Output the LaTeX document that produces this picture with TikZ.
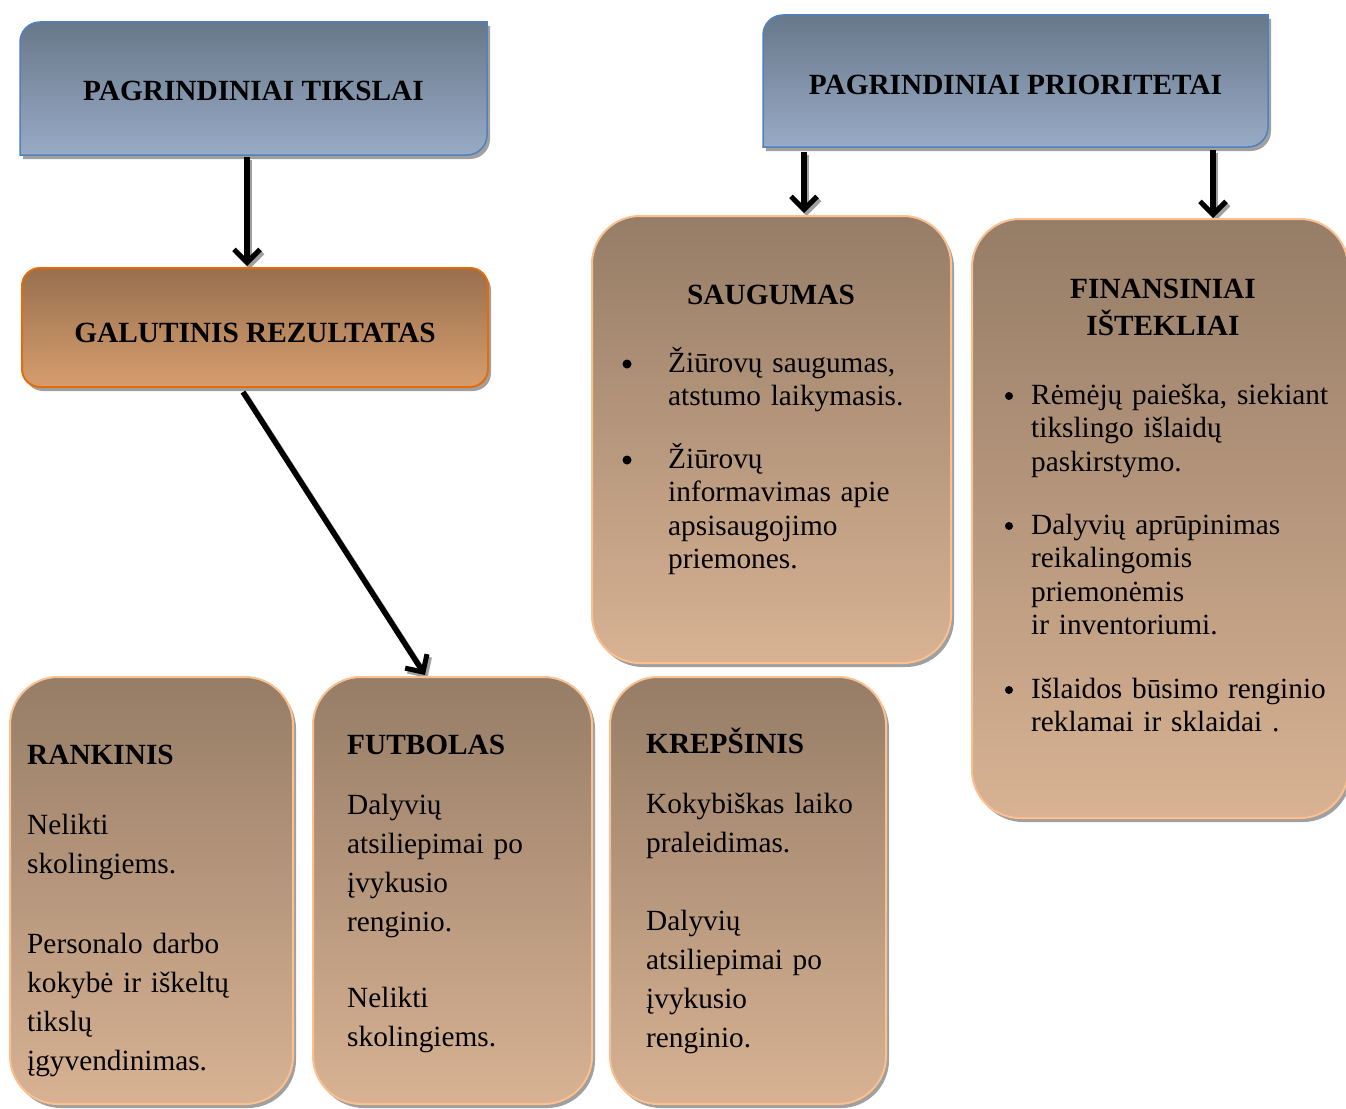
\documentclass[tikz,border=0pt]{standalone}
\usepackage{fontspec}
\setmainfont{Liberation Serif}
\usetikzlibrary{arrows.meta,shadows}
\pgfdeclarelayer{bg}
\pgfsetlayers{bg,main}
\definecolor{bluetop}{RGB}{104,120,139}
\definecolor{bluebot}{RGB}{152,171,197}
\definecolor{blueline}{RGB}{79,129,189}
\definecolor{ortop}{RGB}{152,111,78}
\definecolor{orbot}{RGB}{214,158,110}
\definecolor{orline}{RGB}{228,108,10}
\definecolor{brtop}{RGB}{150,125,103}
\definecolor{brbot}{RGB}{216,178,147}
\definecolor{brline}{RGB}{250,192,143}
\definecolor{shadowgray}{RGB}{160,160,160}
\begin{document}
\begin{tikzpicture}[x=1pt,y=1pt,
  frame/.style={rectangle, inner sep=0pt, outer sep=0pt},
  headbox/.style={frame, font=\fontsize{29.3}{34}\selectfont\bfseries, text depth=0pt},
  cutshape/.style 2 args={insert path={(#1.south west) -- ([yshift=-#2pt]#1.north west)
      arc[start angle=180,end angle=90,radius=#2] -- (#1.north east)
      -- ([yshift=#2pt]#1.south east) arc[start angle=0,end angle=-90,radius=#2] -- cycle}},
  bluefill/.style={top color=bluetop, bottom color=bluebot, draw=blueline, line width=1.5pt},
  boxshadow/.style={drop shadow={shadow xshift=3pt, shadow yshift=-4pt, fill=shadowgray, opacity=1}},
  orbox/.style={frame, rounded corners=18pt, top color=ortop, bottom color=orbot,
      draw=orline, line width=2pt, boxshadow},
  brbox/.style={frame, rounded corners=48pt, top color=brtop, bottom color=brbot,
      draw=brline, line width=2pt, boxshadow},
  headtext/.style={inner sep=0pt, anchor=base west, font=\fontsize{29.3}{37}\selectfont\bfseries},
  bodylow/.style={inner sep=0pt, anchor=base west, text width=330pt, align=left,
      font=\fontsize{29.3}{39}\selectfont},
  bodytop/.style={inner sep=0pt, anchor=base west, text width=330pt, align=left,
      font=\fontsize{29.3}{33.5}\selectfont},
  bul/.style={circle, fill=black, inner sep=0pt, minimum size=9pt},
  arrowline/.style={line width=5.5pt, -{Straight Barb[length=13pt,width=26pt,line width=5pt]}},
  arrowshadow/.style={arrowline, draw=shadowgray, transform canvas={shift={(2.5pt,-3pt)}}}
]
\useasboundingbox (0,0) rectangle (1346,-1108);

% header boxes
\node[headbox, minimum width=467pt, minimum height=133pt, text height=24pt] (tikslai) at (253.5,-88.5) {PAGRINDINIAI TIKSLAI};
\node[headbox, minimum width=505pt, minimum height=132pt, text height=27.5pt] (prioritetai) at (1015.5,-81) {PAGRINDINIAI PRIORITETAI};
\begin{pgfonlayer}{bg}
  \fill[shadowgray, transform canvas={shift={(3pt,-4pt)}}, cutshape={tikslai}{20}];
  \shadedraw[bluefill, cutshape={tikslai}{20}];
  \fill[shadowgray, transform canvas={shift={(3pt,-4pt)}}, cutshape={prioritetai}{20}];
  \shadedraw[bluefill, cutshape={prioritetai}{20}];
\end{pgfonlayer}

% result box
\node[orbox, minimum width=466pt, minimum height=119pt, text height=30pt, text depth=0pt,
      font=\fontsize{29.3}{34}\selectfont\bfseries] (galutinis) at (255,-327.5) {GALUTINIS REZULTATAS};

% brown boxes
\node[brbox, minimum width=359pt, minimum height=447pt] (saugumas) at (771.5,-439.5) {};
\node[brbox, minimum width=376pt, minimum height=599pt] (finansai) at (1160,-518.5) {};
\node[brbox, minimum width=283pt, minimum height=427pt] (rankinis) at (151.5,-890.5) {};
\node[brbox, minimum width=279pt, minimum height=427pt] (futbolas) at (452.5,-890.5) {};
\node[brbox, minimum width=276pt, minimum height=427pt] (krepsinis) at (748,-890.5) {};

% SAUGUMAS
\node[headtext, anchor=base] (sgh) at (771,-304) {SAUGUMAS};
\node[bul] (sgb1) at (627,-364) {};
\node[bodytop] (sg1) at (668,-372) {Žiūrovų saugumas,\\atstumo laikymasis.};
\node[bul] (sgb2) at (627,-460) {};
\node[bodytop] (sg2) at (668,-468) {Žiūrovų\\informavimas apie\\apsisaugojimo\\priemones.};

% FINANSINIAI ISTEKLIAI
\node[headtext, anchor=base, align=center] (fnh) at (1163,-335) {FINANSINIAI\\IŠTEKLIAI};
\node[bul, minimum size=8pt] (fnb1) at (1009,-396) {};
\node[bodytop] (fn1) at (1031,-404) {Rėmėjų paieška, siekiant\\tikslingo išlaidų\\paskirstymo.};
\node[bul, minimum size=8pt] (fnb2) at (1009,-526) {};
\node[bodytop] (fn2) at (1031,-534) {Dalyvių aprūpinimas\\reikalingomis\\priemonėmis\\ir inventoriumi.};
\node[bul, minimum size=8pt] (fnb3) at (1009,-690) {};
\node[bodytop] (fn3) at (1031,-698) {Išlaidos būsimo renginio\\reklamai ir sklaidai .};

% RANKINIS
\node[headtext] (rkh) at (27,-764) {RANKINIS};
\node[bodylow] (rk1) at (27,-834) {Nelikti\\skolingiems.};
\node[bodylow] (rk2) at (27,-953) {Personalo darbo\\kokybė ir iškeltų\\tikslų\\įgyvendinimas.};

% FUTBOLAS
\node[headtext] (fbh) at (347,-754) {FUTBOLAS};
\node[bodylow] (fb1) at (347,-814) {Dalyvių\\atsiliepimai po\\įvykusio\\renginio.};
\node[bodylow] (fb2) at (347,-1007) {Nelikti\\skolingiems.};

% KREPSINIS
\node[headtext] (kph) at (646,-753) {KREPŠINIS};
\node[bodylow] (kp1) at (646,-813) {Kokybiškas laiko\\praleidimas.};
\node[bodylow] (kp2) at (646,-930) {Dalyvių\\atsiliepimai po\\įvykusio\\renginio.};

% arrows
\begin{pgfonlayer}{bg}
  \draw[arrowshadow] ([xshift=-6.5pt,yshift=-2pt]tikslai.south) -- ([xshift=-8pt,yshift=2pt]galutinis.north);
  \draw[arrowshadow] ([xshift=-12pt,yshift=-5pt]galutinis.south) -- ([xshift=-27.5pt,yshift=2pt]futbolas.north);
  \draw[arrowshadow] ([xshift=-211.5pt,yshift=-5pt]prioritetai.south) -- ([xshift=32.5pt,yshift=3pt]saugumas.north);
  \draw[arrowshadow] ([xshift=197.5pt,yshift=-3pt]prioritetai.south) -- ([xshift=53pt,yshift=1pt]finansai.north);
\end{pgfonlayer}
\draw[arrowline] ([xshift=-6.5pt,yshift=-2pt]tikslai.south) -- ([xshift=-8pt,yshift=2pt]galutinis.north);
\draw[arrowline] ([xshift=-12pt,yshift=-5pt]galutinis.south) -- ([xshift=-27.5pt,yshift=2pt]futbolas.north);
\draw[arrowline] ([xshift=-211.5pt,yshift=-5pt]prioritetai.south) -- ([xshift=32.5pt,yshift=3pt]saugumas.north);
\draw[arrowline] ([xshift=197.5pt,yshift=-3pt]prioritetai.south) -- ([xshift=53pt,yshift=1pt]finansai.north);
\end{tikzpicture}
\end{document}
